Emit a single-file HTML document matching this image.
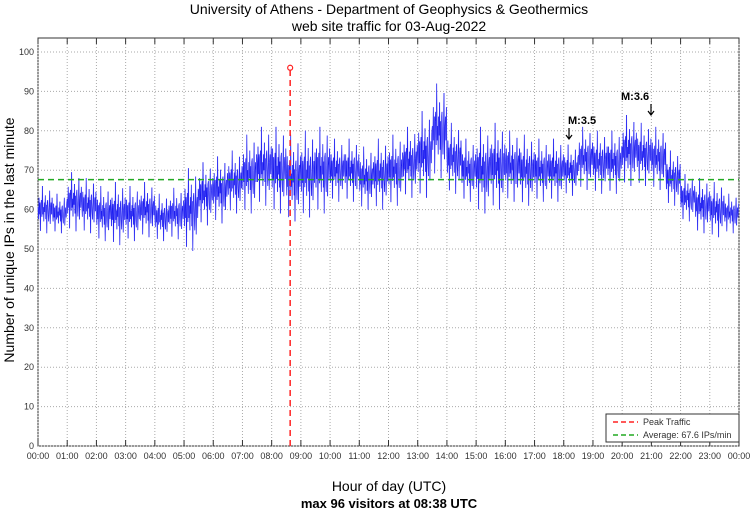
<!DOCTYPE html>
<html><head><meta charset="utf-8"><style>
body{margin:0;background:#fff;}
svg{display:block;font-family:"Liberation Sans",sans-serif;}
</style></head><body>
<svg id="c" width="750" height="511" xmlns="http://www.w3.org/2000/svg">
<text x="389" y="14" text-anchor="middle" font-size="14">University of Athens - Department of Geophysics &amp; Geothermics</text>
<text x="389" y="31" text-anchor="middle" font-size="14">web site traffic for 03-Aug-2022</text>
<text transform="translate(14,240) rotate(-90)" text-anchor="middle" font-size="14">Number of unique IPs in the last minute</text>
<text x="389" y="491" text-anchor="middle" font-size="14">Hour of day (UTC)</text>
<text x="389" y="508" text-anchor="middle" font-size="13" font-weight="bold">max 96 visitors at 08:38 UTC</text>
<g id="grid"></g><g id="series"></g><g id="overlay"></g>
</svg>
<script>
const binMean=[60,59,62,61,59,59,59,60,58,59,60,64,65,67,69,71,70,68,69,70,70,70,68,69,70,72,74,80,73,70,70,71,71,70,70,70,70,73,72,72,75,74,73,68,63,61,60,59];
const binLow=[54,54,55,54,52,52,52,53,52,53,49,56,57,60,60,62,62,58,60,60,62,62,60,60,62,64,64,70,64,62,60,60,62,62,62,62,63,64,64,64,66,66,64,60,56,54,52,54];
const binHigh=[66,64,70,68,66,68,66,67,64,66,70,72,74,76,80,82,84,80,82,82,78,78,76,78,80,82,86,94,82,78,82,82,80,80,78,78,76,80,80,80,84,82,80,74,68,68,66,64];
const yTicks=[0,10,20,30,40,50,60,70,80,90,100];
const xTickLabels=["00:00","01:00","02:00","03:00","04:00","05:00","06:00","07:00","08:00","09:00","10:00","11:00","12:00","13:00","14:00","15:00","16:00","17:00","18:00","19:00","20:00","21:00","22:00","23:00","00:00"];
const average=67.6, peakMinute=518, peakValue=96;
const jitter=[0.1,-0.4,0.5,-0.2,0.3,-0.9,0.2,0.4,-0.3,1,-0.2,0.1,-0.5,0.3,-0.1,0.6,-0.4,0.2,-1,0.3,0.4,-0.2,-0.5,0.1,0.8,-0.6,0.1,0.3,-0.2,0.5];
const X0=38,X1=739,Y0=446,Y1=38;
const x=m=>X0+(X1-X0)*m/1440;
const y=v=>Y0-(v)*3.94;
const NS="http://www.w3.org/2000/svg";
function mk(p,t,a){const e=document.createElementNS(NS,t);for(const k in a)e.setAttribute(k,a[k]);p.appendChild(e);return e;}
const g=document.getElementById('grid'),s=document.getElementById('series'),o=document.getElementById('overlay');
mk(g,'rect',{x:X0,y:Y1,width:X1-X0,height:Y0-Y1,fill:'none',stroke:'#333','stroke-width':1});
yTicks.forEach(v=>{
 const l=mk(g,'line',{x1:X0,x2:X1,y1:y(v),y2:y(v),stroke:'#aaa','stroke-dasharray':'1,2'});
 
 const t=mk(g,'text',{x:X0-4,y:y(v)+3,'text-anchor':'end','font-size':9,fill:'#333'});t.textContent=v;
 
});
xTickLabels.forEach((lab,i)=>{
 const xx=x(i*60);
 const l=mk(g,'line',{x1:xx,x2:xx,y1:Y1,y2:Y0,stroke:'#aaa','stroke-dasharray':'1,2'});
 
 mk(g,'line',{x1:xx,x2:xx,y1:Y0,y2:Y0-6,stroke:'#333'});mk(g,'line',{x1:xx,x2:xx,y1:Y1,y2:Y1+6,stroke:'#333'});
 const t=mk(g,'text',{x:xx,y:459,'text-anchor':'middle','font-size':9,fill:'#333'});t.textContent=lab;
 
});
let pts=[];
binMean.forEach((m,b)=>{const half=(binHigh[b]-binLow[b])/2;
 for(let j=0;j<30;j++){const v=m+jitter[j]*half;pts.push(x(b*30+j).toFixed(1)+','+y(v).toFixed(1));}});
const light=mk(s,'polyline',{points:pts.join(' '),fill:'none',stroke:'#a0a0ff','stroke-width':1});

const line=mk(s,'polyline',{points:pts.join(' '),fill:'none',stroke:'#1515f0','stroke-width':0.5});

const av=mk(o,'line',{x1:X0,x2:X1,y1:y(average),y2:y(average),stroke:'#22aa22','stroke-width':1.5,'stroke-dasharray':'6,4'});

const pk=mk(o,'line',{x1:x(peakMinute),x2:x(peakMinute),y1:Y0,y2:y(peakValue),stroke:'#ff2222','stroke-width':1.5,'stroke-dasharray':'6,4'});

const pc=mk(o,'circle',{cx:x(peakMinute),cy:y(peakValue),r:2.5,fill:'none',stroke:'#ff2222','stroke-width':1.2});

</script>
<svg style="position:absolute;left:0;top:0" width="750" height="511" xmlns="http://www.w3.org/2000/svg" font-family="Liberation Sans, sans-serif">
<g><text x="568" y="124" font-size="11" font-weight="bold">M:3.5</text>
<path d="M569 128 V139 M566 135 L569 139 L572 135" stroke="#000" fill="none" stroke-width="1.2"/></g>
<g><text x="621" y="100" font-size="11" font-weight="bold">M:3.6</text>
<path d="M651 104 V115 M648 111 L651 115 L654 111" stroke="#000" fill="none" stroke-width="1.2"/></g>
<g>
<rect x="606" y="414" width="133" height="28" fill="#fff" stroke="#333"/>
<line x1="613" x2="638" y1="422" y2="422" stroke="#ff2222" stroke-width="1.5" stroke-dasharray="5,3"/>
<text x="643" y="425" font-size="9" fill="#333">Peak Traffic</text>
<line x1="613" x2="638" y1="435" y2="435" stroke="#22aa22" stroke-width="1.5" stroke-dasharray="5,3"/>
<text x="643" y="438" font-size="9" fill="#333">Average: 67.6 IPs/min</text>
</g></svg>
</body></html>
